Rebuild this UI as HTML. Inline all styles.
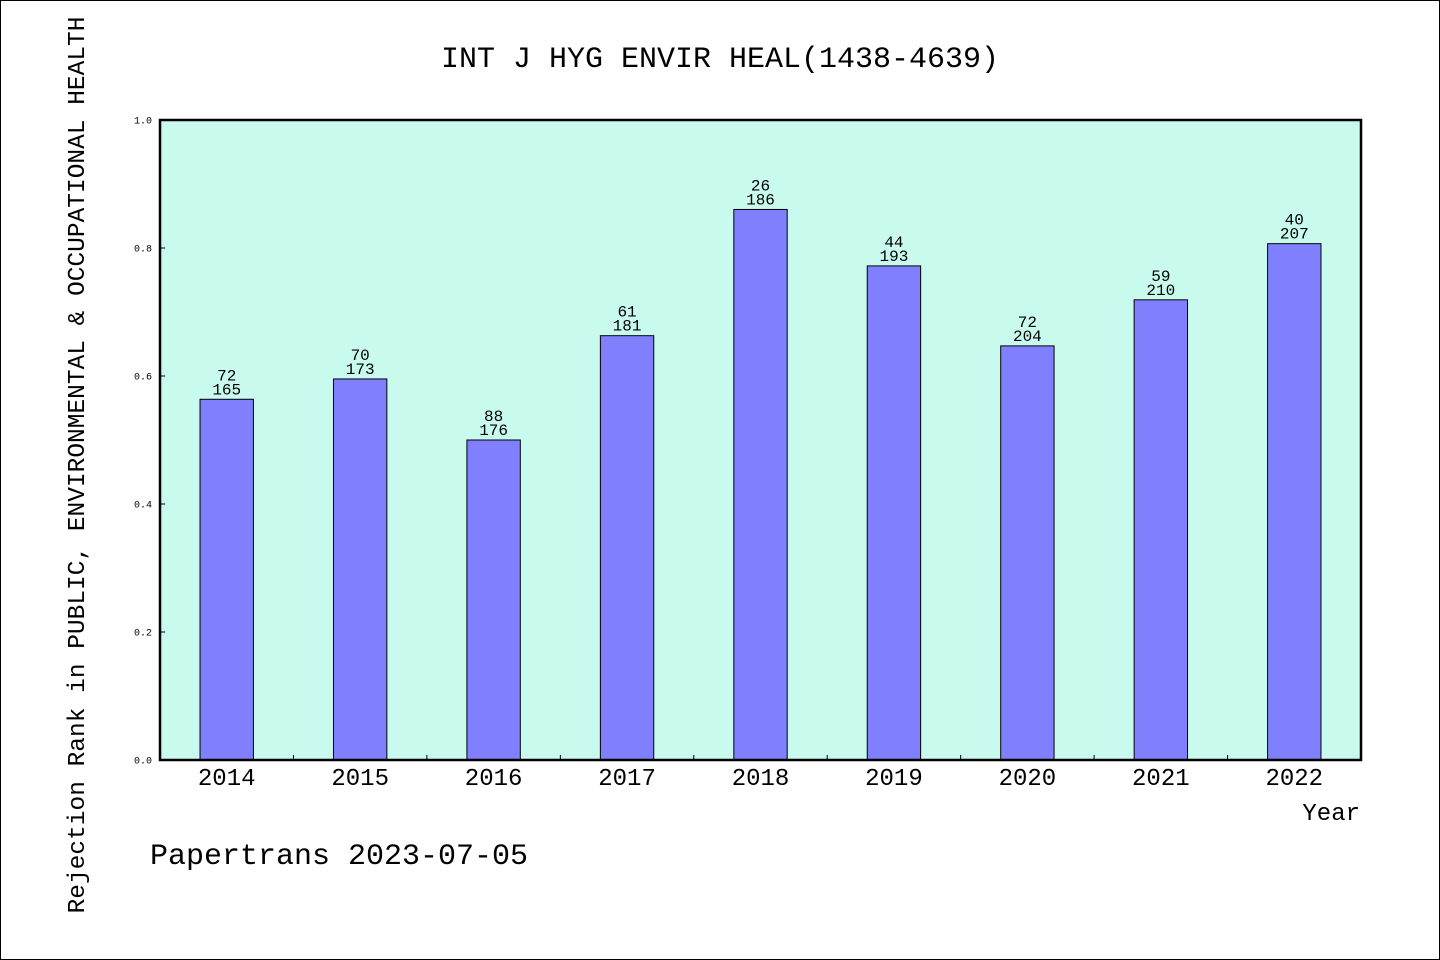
<!DOCTYPE html>
<html><head><meta charset="utf-8"><style>
html,body{margin:0;padding:0;background:#fff;}
svg{display:block;}
text{font-family:"Liberation Mono","WenQuanYi Zen Hei",monospace;fill:#000;}
</style></head><body>
<svg id="chart" width="1440" height="960" viewBox="0 0 1440 960" xmlns="http://www.w3.org/2000/svg">
<rect x="0.5" y="0.5" width="1439" height="959" fill="#fff" stroke="#000"/>
<text x="720" y="67" font-size="30" text-anchor="middle">INT J HYG ENVIR HEAL(1438-4639)</text>
<rect x="160" y="120" width="1201" height="640" fill="#c8fbee"/>
<g id="bars"></g>
<g id="axes"></g>
<rect x="160" y="120" width="1201" height="640" fill="none" stroke="#000" stroke-width="2.5"/>
<text x="1360" y="820" font-size="24" text-anchor="end">Year</text>
<text transform="translate(84,465) rotate(-90)" font-size="24.5" text-anchor="middle">Rejection Rank in PUBLIC, ENVIRONMENTAL &amp; OCCUPATIONAL HEALTH</text>
<text x="150" y="864" font-size="30">Papertrans 2023-07-05</text>
</svg>
<script>
const years = ["2014","2015","2016","2017","2018","2019","2020","2021","2022"];
const ranks = [72,70,88,61,26,44,72,59,40];
const totals = [165,173,176,181,186,193,204,210,207];
const yTicks = ["0.0","0.2","0.4","0.6","0.8","1.0"];
const NS="http://www.w3.org/2000/svg";
const X0=160,W=1201,Y0=760,H=640;
const band=W/years.length;
const xc=i=>X0+band*(i+0.5);
const ys=v=>Y0-v*H;
const bars=document.getElementById('bars'), axes=document.getElementById('axes');
function mk(tag,attrs,parent){const e=document.createElementNS(NS,tag);for(const k in attrs)e.setAttribute(k,attrs[k]);parent.appendChild(e);return e;}
years.forEach((y,i)=>{
  const v=1-ranks[i]/totals[i];
  const bw=band*0.4;
  const r=mk('rect',{x:xc(i)-bw/2,y:ys(v),width:bw,height:Y0-ys(v),fill:'#8080ff',stroke:'#000','stroke-width':1},bars);
  
  
  const t1=mk('text',{x:xc(i),y:ys(v)-19,'font-size':16,'text-anchor':'middle'},bars);
  t1.textContent=ranks[i];
  
  
  const t2=mk('text',{x:xc(i),y:ys(v)-5,'font-size':16,'text-anchor':'middle'},bars);
  t2.textContent=totals[i];
  
  
  const xl=mk('text',{x:xc(i),y:785,'font-size':24,'text-anchor':'middle'},axes);
  xl.textContent=y;
  
  
  if(i>0){
    const tk=mk('line',{x1:X0+band*i,x2:X0+band*i,y1:Y0,y2:Y0-5,stroke:'#000'},axes);
    
    
  }
});
yTicks.forEach(s=>{
  const v=parseFloat(s);
  const tk=mk('line',{x1:X0,x2:X0+5,y1:ys(v),y2:ys(v),stroke:'#000'},axes);
  
  
  const tl=mk('text',{x:152,y:ys(v)+3.5,'font-size':10,'text-anchor':'end'},axes);
  tl.textContent=s;
  
  
});
</script>
</body></html>
